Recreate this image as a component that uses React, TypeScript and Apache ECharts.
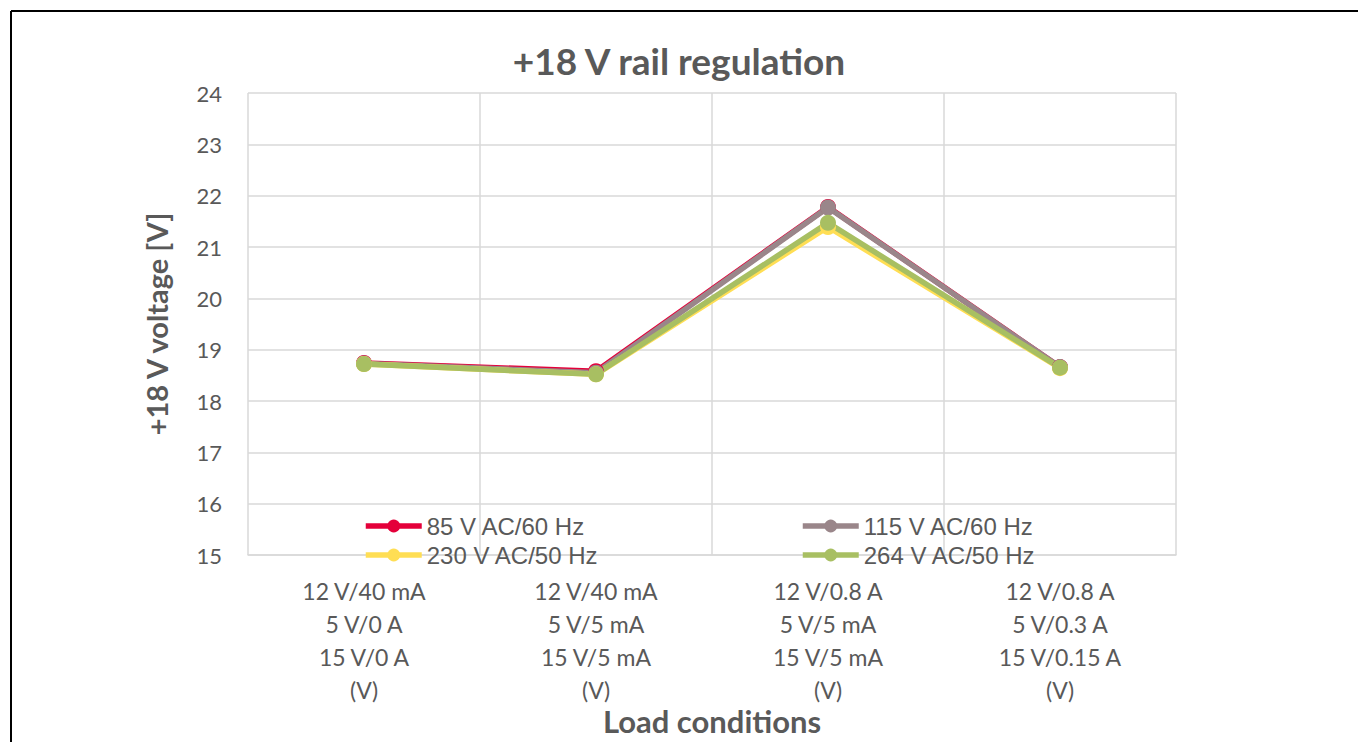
import React, { useEffect, useRef } from "react";
import * as echarts from "echarts";

const categories = [
  "12 V/40 mA\n5 V/0 A\n15 V/0 A\n(V)",
  "12 V/40 mA\n5 V/5 mA\n15 V/5 mA\n(V)",
  "12 V/0.8 A\n5 V/5 mA\n15 V/5 mA\n(V)",
  "12 V/0.8 A\n5 V/0.3 A\n15 V/0.15 A\n(V)",
];
const s85 = [18.74, 18.58, 21.78, 18.66];
const s115 = [18.73, 18.55, 21.77, 18.66];
const s230 = [18.72, 18.52, 21.39, 18.64];
const s264 = [18.72, 18.52, 21.47, 18.65];
const yTicks = { min: 15, max: 24, interval: 1 };

const TEXT = "#595959";
const FONT = "Lato, 'Open Sans', sans-serif";
const LEGEND_FONT = "'Liberation Sans', Arial, sans-serif";

export default function App() {
  const ref = useRef<HTMLDivElement>(null);
  useEffect(() => {
    const chart = echarts.init(ref.current!, undefined, { renderer: "svg" });
    const mk = (name: string, data: number[], color: string) => ({
      name,
      type: "line",
      data,
      symbol: "circle",
      symbolSize: 16,
      lineStyle: { width: 5.5, color },
      itemStyle: { color },
      color,
    });
    const legendBase = {
      orient: "vertical",
      top: 509,
      itemWidth: 56,
      itemHeight: 16,
      itemGap: 5,
      lineStyle: { width: 5.5 },
      textStyle: { fontFamily: LEGEND_FONT, fontSize: 24, lineHeight: 24, color: TEXT },
    };
    chart.setOption({
      animation: false,
      backgroundColor: "#fff",
      title: {
        text: "+18 V rail regulation",
        left: "center",
        top: 37,
        textStyle: { fontFamily: FONT, fontSize: 37, fontWeight: "bold", color: TEXT },
      },
      graphic: [
        {
          type: "line",
          shape: { x1: 11, y1: 11, x2: 1400, y2: 11 },
          style: { stroke: "#000", lineWidth: 2 },
          silent: true,
        },
        {
          type: "line",
          shape: { x1: 11, y1: 11, x2: 11, y2: 800 },
          style: { stroke: "#000", lineWidth: 2 },
          silent: true,
        },
      ],
      legend: [
        { ...legendBase, left: 358, data: ["85 V AC/60 Hz", "230 V AC/50 Hz"] },
        { ...legendBase, left: 795, data: ["115 V AC/60 Hz", "264 V AC/50 Hz"] },
      ],
      grid: {
        left: 248,
        top: 93,
        right: 182,
        bottom: 187,
        containLabel: false,
        outerBoundsMode: "none",
      },
      xAxis: {
        type: "category",
        data: categories,
        boundaryGap: true,
        name: "Load conditions",
        nameLocation: "middle",
        nameGap: 150,
        nameMoveOverlap: false,
        nameTextStyle: { fontFamily: FONT, fontSize: 31, fontWeight: "bold", color: TEXT },
        axisLine: { show: true, lineStyle: { color: "#D9D9D9", width: 1.5 } },
        axisTick: { show: false },
        splitLine: { show: true, lineStyle: { color: "#D9D9D9", width: 1.5 } },
        axisLabel: {
          fontFamily: FONT,
          fontSize: 23,
          color: TEXT,
          lineHeight: 33,
          margin: 19,
          interval: 0,
        },
      },
      yAxis: {
        type: "value",
        min: yTicks.min,
        max: yTicks.max,
        interval: yTicks.interval,
        name: "+18 V voltage [V]",
        nameLocation: "middle",
        nameGap: 77,
        nameMoveOverlap: false,
        nameTextStyle: { fontFamily: FONT, fontSize: 29, fontWeight: "bold", color: TEXT },
        axisLine: { show: false },
        axisTick: { show: false },
        splitLine: { show: true, lineStyle: { color: "#D9D9D9", width: 1.5 } },
        axisLabel: { fontFamily: FONT, fontSize: 22, color: TEXT, margin: 26 },
      },
      series: [
        mk("85 V AC/60 Hz", s85, "#E4003A"),
        mk("115 V AC/60 Hz", s115, "#9A868A"),
        mk("230 V AC/50 Hz", s230, "#FFDE54"),
        mk("264 V AC/50 Hz", s264, "#A8BF62"),
      ],
    });
    return () => chart.dispose();
  }, []);
  return (
    <div
      ref={ref}
      style={{ position: "fixed", left: 0, top: 0, width: 1358, height: 742 }}
    />
  );
}
